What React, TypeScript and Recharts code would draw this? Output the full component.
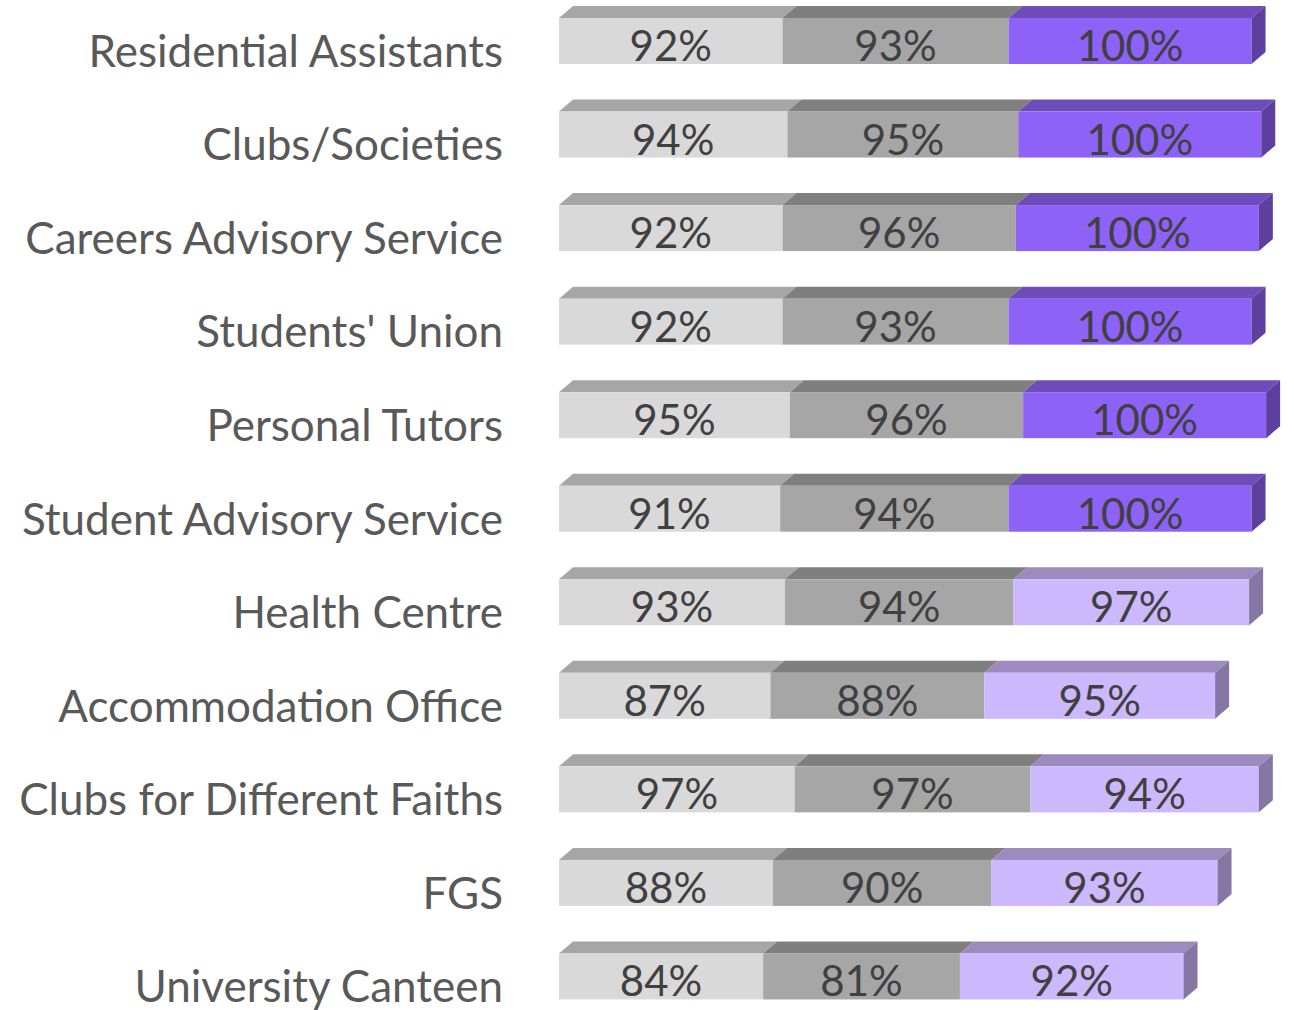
import { BarChart, Bar, XAxis, YAxis, LabelList } from "recharts";

const categories = [
  "Residential Assistants",
  "Clubs/Societies",
  "Careers Advisory Service",
  "Students' Union",
  "Personal Tutors",
  "Student Advisory Service",
  "Health Centre",
  "Accommodation Office",
  "Clubs for Different Faiths",
  "FGS",
  "University Canteen",
];

const firstValues = [92, 94, 92, 92, 95, 91, 93, 87, 97, 88, 84];
const secondValues = [93, 95, 96, 93, 96, 94, 94, 88, 97, 90, 81];
const thirdValues = [100, 100, 100, 100, 100, 100, 97, 95, 94, 93, 92];

const data = categories.map((name, i) => ({
  name,
  a: firstValues[i],
  b: secondValues[i],
  c: thirdValues[i],
}));

const DX = 14;
const DY = 12;
const FONT = "Lato, 'Open Sans', sans-serif";

type Face = { front: string; top: string; side?: string };

const makeShape = (pick: (value: number) => Face) => (props: any) => {
  const { x, y, width, height, value } = props;
  const v = Array.isArray(value) ? value[1] - value[0] : value;
  const c = pick(v);
  return (
    <g>
      <polygon
        points={`${x},${y} ${x + DX},${y - DY} ${x + width + DX},${y - DY} ${x + width},${y}`}
        fill={c.top}
      />
      <rect x={x} y={y} width={width} height={height} fill={c.front} />
      {c.side && (
        <polygon
          points={`${x + width},${y} ${x + width + DX},${y - DY} ${x + width + DX},${y + height - DY} ${x + width},${y + height}`}
          fill={c.side}
        />
      )}
    </g>
  );
};

const firstShape = makeShape(() => ({ front: "#d9d9d9", top: "#a6a6a6" }));
const secondShape = makeShape(() => ({ front: "#a6a6a6", top: "#7f7f7f" }));
const thirdShape = makeShape((v) =>
  v >= 100
    ? { front: "#8e62f6", top: "#6e4cba", side: "#5d3f9e" }
    : { front: "#ccb8fd", top: "#9d8abf", side: "#8576a4" }
);

const ValueLabel = (props: any) => {
  const { x, y, width, height, value } = props;
  return (
    <text
      x={x + width / 2}
      y={y + height / 2 + 20}
      textAnchor="middle"
      fill="#404040"
      fontSize={42}
      fontFamily={FONT}
    >
      {value}%
    </text>
  );
};

const CategoryTick = (props: any) => {
  const { x, y, payload } = props;
  return (
    <text
      x={x - 48}
      y={y + 26}
      textAnchor="end"
      fill="#595959"
      fontSize={44}
      fontFamily={FONT}
    >
      {payload.value}
    </text>
  );
};

export default function App() {
  return (
    <div
      style={{
        position: "absolute",
        left: 0,
        top: 0,
        width: 1294,
        height: 1010,
        overflow: "hidden",
        background: "#fff",
      }}
    >
      <div style={{ position: "relative", top: -6 }}>
        <BarChart
          width={1294}
          height={1029}
          data={data}
          layout="vertical"
          margin={{ top: 0, right: 6, left: 0, bottom: 0 }}
        >
          <XAxis type="number" domain={[0, 300]} hide />
          <YAxis
            type="category"
            dataKey="name"
            width={559}
            axisLine={false}
            tickLine={false}
            tick={<CategoryTick />}
            interval={0}
          />
          <Bar dataKey="a" stackId="s" barSize={46} shape={firstShape} isAnimationActive={false}>
            <LabelList dataKey="a" content={<ValueLabel />} />
          </Bar>
          <Bar dataKey="b" stackId="s" barSize={46} shape={secondShape} isAnimationActive={false}>
            <LabelList dataKey="b" content={<ValueLabel />} />
          </Bar>
          <Bar dataKey="c" stackId="s" barSize={46} shape={thirdShape} isAnimationActive={false}>
            <LabelList dataKey="c" content={<ValueLabel />} />
          </Bar>
        </BarChart>
      </div>
    </div>
  );
}
